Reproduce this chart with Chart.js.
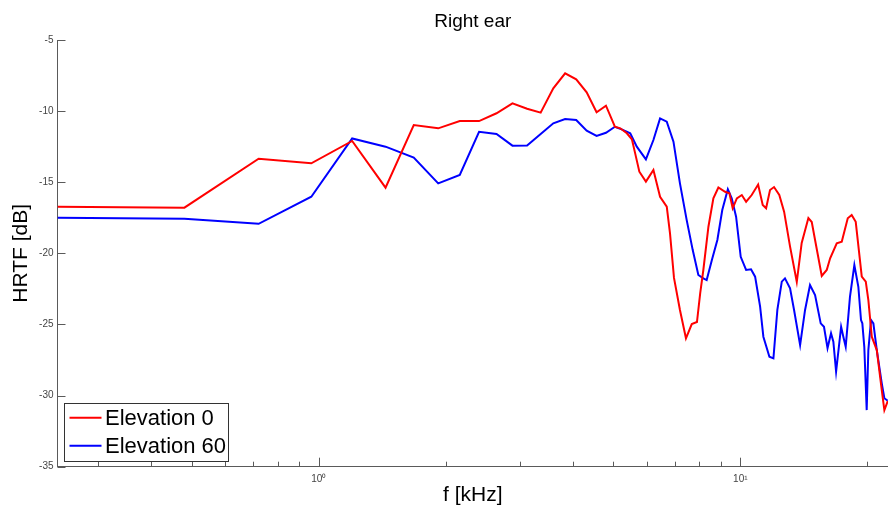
<!DOCTYPE html>
<html>
<head>
<meta charset="utf-8">
<script src="https://cdn.jsdelivr.net/npm/chart.js@4.4.1/dist/chart.umd.min.js"></script>
<style>
html,body{margin:0;padding:0;background:#fff;}
canvas{display:block;}
</style>
</head>
<body>
<canvas id="c" width="888" height="508"></canvas>
<script>
// ---- data ----
const freqElev0 = [0.24,0.48,0.72,0.96,1.20,1.44,1.68,1.92,2.16,2.40,2.64,2.88,3.12,3.36,3.60,3.84,4.08,4.32,4.56,4.80,5.04,
  5.19,5.38,5.53,5.63,5.76,5.97,6.22,6.45,6.69,6.81,6.96,7.19,7.43,7.67,7.89,8.03,8.17,8.40,8.63,8.87,
  9.20,9.42,9.59,9.81,10.08,10.32,10.64,11.02,11.30,11.51,11.76,12.02,12.37,12.70,13.12,13.61,13.98,14.50,14.77,15.04,
  15.60,16.03,16.33,16.93,17.40,17.98,18.37,18.78,19.41,19.84,20.12,20.50,21.07,21.65,21.96,22.37];
const dbElev0 = [-16.72,-16.79,-13.35,-13.67,-12.10,-15.38,-10.98,-11.21,-10.70,-10.70,-10.15,-9.45,-9.83,-10.11,-8.40,-7.34,-7.77,-8.68,-10.08,-9.62,-11.10,
  -11.21,-11.56,-11.98,-12.97,-14.26,-14.96,-14.14,-16.02,-16.72,-18.59,-21.73,-23.98,-25.97,-24.97,-24.83,-22.81,-21.17,-18.13,-16.13,-15.37,
  -15.67,-15.78,-16.83,-16.13,-15.90,-16.37,-15.90,-15.16,-16.60,-16.83,-15.55,-15.34,-15.90,-17.07,-19.53,-22.00,-19.27,-17.52,-17.80,-19.06,
  -21.59,-21.17,-20.35,-19.29,-19.18,-17.54,-17.30,-17.78,-21.64,-21.99,-23.28,-25.86,-26.80,-29.61,-31.02,-30.38];

const freqElev60 = [0.24,0.48,0.72,0.96,1.20,1.44,1.68,1.92,2.16,2.40,2.64,2.88,3.12,3.36,3.60,3.84,4.08,4.32,4.56,4.80,5.04,
  5.23,5.48,5.68,5.97,6.22,6.45,6.69,6.94,7.19,7.46,7.71,7.95,8.17,8.32,8.56,8.82,9.06,9.34,9.54,9.77,
  10.02,10.32,10.60,10.84,11.14,11.34,11.72,11.98,12.24,12.54,12.76,13.12,13.41,13.86,14.24,14.63,15.04,15.51,15.79,16.10,
  16.41,16.62,16.87,17.34,17.55,17.78,18.20,18.64,19.05,19.33,19.47,19.68,19.94,20.12,20.42,20.68,21.07,21.65,21.96,22.37];
const dbElev60 = [-17.49,-17.56,-17.92,-16.02,-11.92,-12.50,-13.27,-15.08,-14.49,-11.45,-11.61,-12.43,-12.41,-11.61,-10.86,-10.56,-10.63,-11.38,-11.75,-11.52,-11.10,
  -11.28,-11.56,-12.50,-13.39,-12.03,-10.51,-10.74,-12.15,-15.08,-17.66,-19.77,-21.52,-21.76,-21.88,-20.47,-19.06,-16.95,-15.50,-16.13,-17.42,
  -20.24,-21.17,-21.12,-21.64,-23.75,-25.86,-27.27,-27.38,-23.98,-21.99,-21.76,-22.46,-23.98,-26.45,-23.98,-22.23,-22.93,-24.92,-25.16,-26.66,
  -25.62,-26.21,-28.32,-25.16,-25.86,-26.57,-23.05,-20.82,-22.35,-24.69,-24.92,-26.57,-31.02,-26.80,-24.69,-24.92,-26.80,-29.14,-30.19,-30.36];

const seriesLabels = ['Elevation 0','Elevation 60'];
const xTickValues = [0.3,0.4,0.5,0.6,0.7,0.8,0.9,1,2,3,4,5,6,7,8,9,10,20];
const xTickLabels = {1:'10\u2070', 10:'10\u00B9'};

const FONT = "'Liberation Sans', Arial, Helvetica, sans-serif";

function pts(xs, ys){ return xs.map((x,i)=>({x:x, y:ys[i]})); }

const innerTicks = {
  id:'innerTicks',
  beforeDatasetsDraw(chart){
    const ctx = chart.ctx, xs = chart.scales.x, ys = chart.scales.y, a = chart.chartArea;
    ctx.save();
    ctx.strokeStyle = '#5a5a5a';
    ctx.lineWidth = 1;
    ctx.beginPath();
    xs.ticks.forEach(t=>{
      const px = Math.round(xs.getPixelForValue(t.value)) + 0.5;
      const len = t.major ? 9 : 5;
      ctx.moveTo(px, a.bottom);
      ctx.lineTo(px, a.bottom - len);
    });
    ys.ticks.forEach(t=>{
      const py = Math.round(ys.getPixelForValue(t.value)) + 0.5;
      ctx.moveTo(a.left, py);
      ctx.lineTo(a.left + 8, py);
    });
    ctx.stroke();
    ctx.restore();
  }
};

const boxLegend = {
  id:'boxLegend',
  afterDraw(chart){
    const ctx = chart.ctx, a = chart.chartArea;
    const bx = a.left + 6, by = a.bottom - 63.5, bw = 164, bh = 58;
    ctx.save();
    ctx.fillStyle = '#fff';
    ctx.fillRect(bx, by, bw, bh);
    ctx.strokeStyle = '#333';
    ctx.lineWidth = 1;
    ctx.strokeRect(Math.round(bx)+0.5, Math.round(by)+0.5, bw, bh);
    chart.data.datasets.forEach((ds,i)=>{
      const y = by + 14.5 + i*28;
      ctx.strokeStyle = ds.borderColor;
      ctx.lineWidth = 2;
      ctx.beginPath();
      ctx.moveTo(bx + 6, y);
      ctx.lineTo(bx + 38, y);
      ctx.stroke();
      ctx.fillStyle = '#000';
      ctx.font = '22px ' + FONT;
      ctx.textBaseline = 'middle';
      ctx.textAlign = 'left';
      ctx.fillText(ds.label, bx + 41.5, y + 1);
    });
    ctx.restore();
  }
};

new Chart(document.getElementById('c'), {
  type:'line',
  data:{
    datasets:[
      {label:seriesLabels[0], data:pts(freqElev0, dbElev0), borderColor:'#ff0000', borderWidth:2, pointRadius:0, tension:0, fill:false},
      {label:seriesLabels[1], data:pts(freqElev60, dbElev60), borderColor:'#0000ff', borderWidth:2, pointRadius:0, tension:0, fill:false}
    ]
  },
  options:{
    responsive:false,
    animation:false,
    layout:{padding:{left:0,right:0,top:0,bottom:0}},
    plugins:{
      legend:{display:false},
      tooltip:{enabled:false},
      title:{
        display:true, text:'Right ear', fullSize:false, color:'#000',
        font:{family:FONT, size:19, weight:'normal', lineHeight:1.2},
        padding:{top:10, bottom:7.2}
      }
    },
    scales:{
      x:{
        type:'logarithmic', min:0.24, max:22.4,
        grid:{display:false, drawTicks:false},
        border:{display:true, color:'#5a5a5a', width:1},
        afterBuildTicks(scale){
          scale.ticks = xTickValues.map(v=>({value:v, major:(v===1||v===10)}));
        },
        ticks:{
          autoSkip:false, maxRotation:0, minRotation:0, padding:7,
          color:'#444', font:{family:FONT, size:10},
          callback:(v)=> xTickLabels[v] || ''
        },
        title:{display:true, text:'f [kHz]', color:'#000', font:{family:FONT, size:21, lineHeight:1}, padding:{top:0,bottom:2}},
        afterFit(scale){ scale.height = 41.3; }
      },
      y:{
        type:'linear', min:-35, max:-5,
        grid:{display:false, drawTicks:false},
        border:{display:true, color:'#5a5a5a', width:1},
        ticks:{stepSize:5, padding:4, color:'#444', font:{family:FONT, size:10}},
        title:{display:true, text:'HRTF [dB]', color:'#000', font:{family:FONT, size:21, lineHeight:1.2}, padding:{top:9,bottom:0}},
        afterFit(scale){ scale.width = 57.5; }
      }
    }
  },
  plugins:[innerTicks, boxLegend]
});
</script>
</body>
</html>
